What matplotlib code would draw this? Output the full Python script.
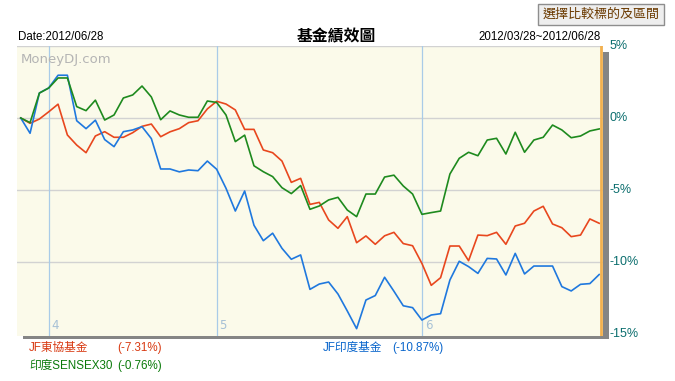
import matplotlib
matplotlib.use("Agg")
import matplotlib.pyplot as plt
from matplotlib.patches import Rectangle

plt.rcParams['font.family'] = ['Liberation Sans', 'Noto Sans CJK TC', 'DejaVu Sans']

# ---------------- data ----------------
series_names = ["JF東協基金", "JF印度基金", "印度SENSEX30"]
final_returns = ["(-7.31%)", "(-10.87%)", "(-0.76%)"]

asean = [0, -0.37, -0.07, 0.43, 0.96, -1.18, -1.88, -2.41, -1.25, -0.95, -1.34, -1.34, -1.02,
         -0.58, -0.42, -1.3, -0.96, -0.74, -0.32, -0.19, 0.63, 1.16, 0.97, 0.56, -0.79, -0.79,
         -2.22, -2.41, -2.99, -4.47, -4.19, -6.0, -5.86, -7.08, -7.66, -6.85, -8.66, -8.19,
         -8.77, -8.18, -7.94, -8.72, -8.87, -10.1, -11.62, -11.09, -8.89, -8.89, -9.91, -8.13,
         -8.17, -7.94, -8.77, -7.5, -7.31, -6.46, -6.13, -7.36, -7.62, -8.24, -8.13, -7.01, -7.31]

india_fund = [0, -1.06, 1.74, 2.09, 2.97, 2.97, -0.19, -0.74, -0.15, -1.5, -1.99, -0.95, -0.83,
              -0.6, -1.43, -3.54, -3.54, -3.74, -3.61, -3.66, -2.99, -3.56, -4.88, -6.46, -5.07,
              -7.45, -8.52, -8.0, -9.05, -9.81, -9.51, -11.9, -11.53, -11.39, -12.22, -13.4,
              -14.63, -12.64, -12.33, -11.06, -12.03, -13.04, -13.17, -14.03, -13.68, -13.59,
              -11.25, -9.95, -10.32, -10.79, -9.75, -9.79, -10.9, -9.4, -10.83, -10.28, -10.28,
              -10.28, -11.71, -12.01, -11.55, -11.5, -10.87]

sensex = [0, -0.32, 1.73, 2.08, 2.78, 2.78, 0.79, 0.51, 1.24, -0.14, 0.21, 1.39, 1.6, 2.22,
          1.46, -0.12, 0.49, 0.21, 0.05, 0.05, 1.18, 1.08, 0.21, -1.64, -1.19, -3.32, -3.73,
          -4.07, -4.84, -5.25, -4.69, -6.34, -6.11, -5.69, -5.51, -6.39, -6.85, -5.28, -5.28,
          -4.1, -3.97, -4.72, -5.28, -6.69, -6.57, -6.46, -3.89, -2.8, -2.38, -2.62, -1.53,
          -1.41, -2.5, -0.99, -2.38, -1.53, -1.34, -0.49, -0.83, -1.37, -1.25, -0.9, -0.76]

month_idx = [3, 21, 43]
month_labels = ["4", "5", "6"]
y_ticks = [5, 0, -5, -10, -15]
y_tick_labels = ["5%", "0%", "-5%", "-10%", "-15%"]

line_colors = ["#E8471E", "#1F78DE", "#1E8A1E"]
text_colors = ["#D83A12", "#0A66CC", "#0A7A0A"]

# ---------------- figure ----------------
W, H = 675, 381
fig = plt.figure(figsize=(W / 100, H / 100), dpi=100)
fig.patch.set_facecolor("white")

def fx(px):
    return px / W

def fy(py):
    return 1 - py / H

# background layer: shadow and button box
bg = fig.add_axes([0, 0, 1, 1], zorder=0)
bg.set_xlim(0, W)
bg.set_ylim(H, 0)
bg.axis("off")
bg.add_patch(Rectangle((23, 52), 609 - 23, 338.5 - 52, facecolor="#858585", edgecolor="none"))
bg.add_patch(Rectangle((538, 4), 664 - 538, 21, facecolor="#EEEEEE", edgecolor="#8E8E8E", lw=1.0))

left, right, top, bottom = 17, 603, 46, 335.5
ax = fig.add_axes([fx(left), fy(bottom), fx(right) - fx(left), fy(top) - fy(bottom)], zorder=2)
ax.set_facecolor("#FBFAEA")
for s in ax.spines.values():
    s.set_visible(False)
ax.set_xticks([])
ax.set_yticks([])

n = len(asean)
ax.set_xlim(-0.40, -0.40 + (right - left) / 9.33)
ax.set_ylim(5 - (bottom - top) / 14.4, 5)

for yv in y_ticks[:-1]:
    ax.axhline(yv, color="#D2D2D2", lw=1.0, zorder=1)
for mi, ml in zip(month_idx, month_labels):
    ax.axvline(mi, color="#A9CBE8", lw=0.9, zorder=1)
    ax.text(mi + 0.3, -14.85, ml, color="#A5C0D6", fontsize=8.5,
            family=["DejaVu Sans"], ha="left", va="bottom")

ax.axvline(n - 1 + 0.2, color="#F3B04E", lw=2.0, zorder=4)

x = list(range(n))
for ys, c in zip([asean, india_fund, sensex], line_colors):
    ax.plot(x, ys, color=c, lw=1.2, zorder=3)

ax.text(0.006, 0.975, "MoneyDJ.com", transform=ax.transAxes, color="#B4B4B4",
        fontsize=9.5, family=["DejaVu Sans"], ha="left", va="top")

# right y labels
for yv, lab in zip(y_ticks, y_tick_labels):
    yp = top + (5 - yv) * 14.4
    fig.text(fx(610), fy(yp), lab, color="#0B6E6E", fontsize=9,
             ha="left", va="center")

# header
fig.text(fx(18), fy(37), "Date:2012/06/28", fontsize=8.3, ha="left", va="center", color="black")
fig.text(fx(601), fy(37), "2012/03/28~2012/06/28", fontsize=8.3, ha="right", va="center", color="black")
fig.text(fx(336), fy(36), "基金績效圖", fontsize=11.4, fontweight="bold",
         family=["Noto Sans CJK TC"], ha="center", va="center", color="black")

fig.text(fx(601), fy(14.5), "選擇比較標的及區間", fontsize=9.4, color="#6B3A00",
         family=["Noto Sans CJK TC"], ha="center", va="center")

# legend
fs = 8.4
fig.text(fx(29), fy(348), series_names[0], color=text_colors[0], fontsize=fs, ha="left", va="center")
fig.text(fx(117), fy(348), final_returns[0], color=text_colors[0], fontsize=fs, ha="left", va="center")
fig.text(fx(323), fy(348), series_names[1], color=text_colors[1], fontsize=fs, ha="left", va="center")
fig.text(fx(392), fy(348), final_returns[1], color=text_colors[1], fontsize=fs, ha="left", va="center")
fig.text(fx(29), fy(366), series_names[2], color=text_colors[2], fontsize=fs, ha="left", va="center")
fig.text(fx(117), fy(366), final_returns[2], color=text_colors[2], fontsize=fs, ha="left", va="center")

fig.savefig("out.png", dpi=100)
